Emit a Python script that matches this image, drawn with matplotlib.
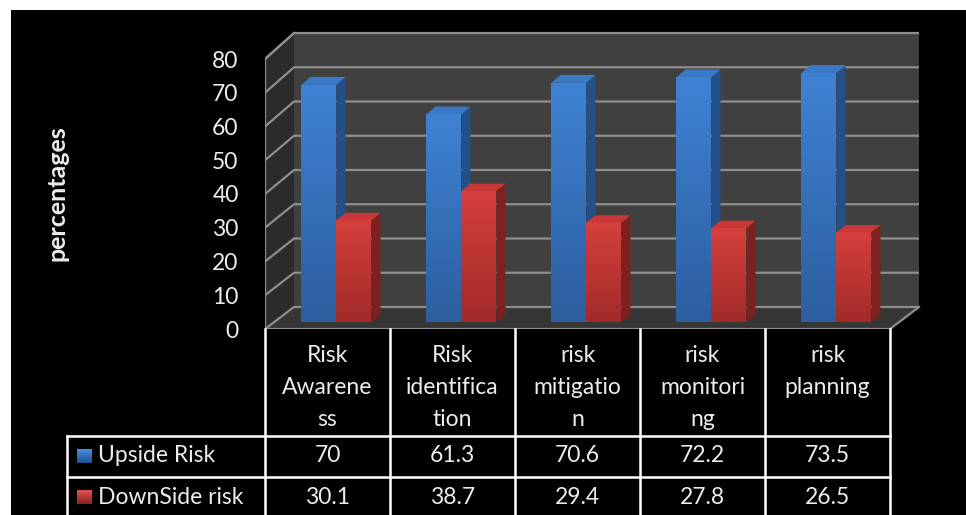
import matplotlib
matplotlib.use("Agg")
import matplotlib.pyplot as plt
from matplotlib.patches import Polygon, Rectangle
import numpy as np

plt.rcParams["font.family"] = ["Lato", "DejaVu Sans"]

# data
categories = ["Risk\nAwarene\nss", "Risk\nidentifica\ntion", "risk\nmitigatio\nn",
              "risk\nmonitori\nng", "risk\nplanning"]
series_names = ["Upside Risk", "DownSide risk"]
upside = [70, 61.3, 70.6, 72.2, 73.5]
downside = [30.1, 38.7, 29.4, 27.8, 26.5]
y_ticks = [0, 10, 20, 30, 40, 50, 60, 70, 80]

W, H = 966, 515
TXT = "#ececec"
FS = 16.5

# front plane in pixels: x 265..890 (125 px per category), value 0 at y=329, 3.375 px per unit
PX_X, PX_Y = 125.0, 3.375
LEFT, BOTTOM, RIGHT, TOP = 265, 329, 935, 20
DX = 29 / PX_X          # depth offset along x (data units)
DY = 22 / PX_Y          # depth offset along y (value units)
S = 4 / PX_Y / 80       # slight perspective growth toward the back
F0, F1 = 0.31, 0.62     # bar front / back depth
BAR_W = 0.28


def proj(x, v, d):
    return (x + d * DX, v * (1 + d * S) + d * DY)


def grad_face(ax, pts, c_top, c_bot, z):
    poly = Polygon(pts, closed=True, facecolor="none", edgecolor="none", zorder=z)
    ax.add_patch(poly)
    xs = [p[0] for p in pts]
    ys = [p[1] for p in pts]
    c1 = np.array(matplotlib.colors.to_rgb(c_top))
    c2 = np.array(matplotlib.colors.to_rgb(c_bot))
    t = np.linspace(0, 1, 64)[:, None]
    img = (c1 * (1 - t) + c2 * t)[:, None, :]
    im = ax.imshow(img, extent=(min(xs), max(xs), min(ys), max(ys)), origin="upper",
                   aspect="auto", interpolation="bilinear", zorder=z)
    im.set_clip_path(poly)


def bar3d(ax, x0, v, front, side, top, z):
    x1 = x0 + BAR_W
    f = [proj(x0, 0, F0), proj(x1, 0, F0), proj(x1, v, F0), proj(x0, v, F0)]
    sd = [proj(x1, 0, F0), proj(x1, 0, F1), proj(x1, v, F1), proj(x1, v, F0)]
    tp = [proj(x0, v, F0), proj(x1, v, F0), proj(x1, v, F1), proj(x0, v, F1)]
    ax.add_patch(Polygon(sd, closed=True, facecolor=side, edgecolor="none", zorder=z))
    ax.add_patch(Polygon(tp, closed=True, facecolor=top, edgecolor="none", zorder=z))
    grad_face(ax, f, front[0], front[1], z + 0.5)


fig = plt.figure(figsize=(W / 100, H / 100), dpi=100, facecolor="white")
fig.patches.append(Rectangle((11 / W, 0), 1, 1 - 10 / H, transform=fig.transFigure,
                             facecolor="black", edgecolor="none", zorder=-10))

ax = fig.add_axes([LEFT / W, (H - BOTTOM) / H, (RIGHT - LEFT) / W, (BOTTOM - TOP) / H])
ax.patch.set_visible(False)
n = len(categories)
vmax = y_ticks[-1]

# walls and floor
back = [proj(0, 0, 1), proj(n, 0, 1), proj(n, vmax, 1), proj(0, vmax, 1)]
ax.add_patch(Polygon(back, closed=True, facecolor="#404040", edgecolor="none", zorder=1))
side_wall = [proj(0, 0, 0), proj(0, 0, 1), proj(0, vmax, 1), proj(0, vmax, 0)]
ax.add_patch(Polygon(side_wall, closed=True, facecolor="#2b2b2b", edgecolor="none", zorder=1))
floor = [proj(0, 0, 0), proj(n, 0, 0), proj(n, 0, 1), proj(0, 0, 1)]
ax.add_patch(Polygon(floor, closed=True, facecolor="#363636", edgecolor="none", zorder=1))

for v in y_ticks:
    a, b, c = proj(0, v, 0), proj(0, v, 1), proj(n, v, 1)
    ax.plot([a[0], b[0], c[0]], [a[1], b[1], c[1]], color="#8e8e8e", lw=1.6, zorder=2,
            solid_capstyle="butt")
# wall edges
for pts in ([proj(0, 0, 0), proj(0, vmax, 0)], [proj(0, vmax, 0), proj(0, vmax, 1)],
            [proj(0, 0, 0), proj(n, 0, 0), proj(n, 0, 1)]):
    ax.plot([p[0] for p in pts], [p[1] for p in pts], color="#8e8e8e", lw=1.6, zorder=2)

# bars, left to right
for i in range(n):
    bar3d(ax, i + 0.5 - BAR_W, upside[i], ("#3f82d4", "#2d5e9f"), "#24508a", "#3b78c6", 3 + 2 * i)
    bar3d(ax, i + 0.5, downside[i], ("#d5403d", "#a22a29"), "#7c2020", "#c93836", 4 + 2 * i)

ax.set_xlim(0, (RIGHT - LEFT) / PX_X)
ax.set_ylim(0, (BOTTOM - TOP) / PX_Y)
ax.set_xticks([])
ax.set_yticks(y_ticks)
ax.set_yticklabels([str(t) for t in y_ticks], color=TXT, fontsize=FS)
ax.tick_params(axis="y", length=0, pad=19)
for s in ax.spines.values():
    s.set_visible(False)

fig.text(57 / W, 1 - 193 / H, "percentages", rotation=90, ha="center", va="center",
         color=TXT, fontsize=18, fontweight="bold")

# data table below the plot
tab = fig.add_axes([0, 0, 1, 1])
tab.set_xlim(0, W)
tab.set_ylim(H, 0)
tab.axis("off")
col_x = [LEFT + PX_X * k for k in range(n + 1)]
row_y = [436, 477]
for x in col_x:
    tab.plot([x, x], [BOTTOM, H], color="white", lw=1.8)
for y in row_y:
    tab.plot([67, col_x[-1]], [y, y], color="white", lw=1.8)
tab.plot([67, 67], [row_y[0], H], color="white", lw=1.8)

for i, lab in enumerate(categories):
    cx = (col_x[i] + col_x[i + 1]) / 2
    for k, line in enumerate(lab.split("\n")):
        tab.text(cx, 355 + 32.5 * k, line, ha="center", va="center", color=TXT, fontsize=FS)

rows = [upside, downside]
row_c = [456, 497]
keys = [("#4a8ee0", "#22508e"), ("#e05050", "#8e2222")]
for r, (name, vals) in enumerate(zip(series_names, rows)):
    y = row_c[r]
    tab.text(98, y, name, ha="left", va="center", color=TXT, fontsize=FS)
    c1 = np.array(matplotlib.colors.to_rgb(keys[r][0]))
    c2 = np.array(matplotlib.colors.to_rgb(keys[r][1]))
    t = np.linspace(0, 1, 16)[:, None]
    tab.imshow((c1 * (1 - t) + c2 * t)[:, None, :], extent=(77, 92, y + 7, y - 7),
               aspect="auto", interpolation="bilinear")
    for i, v in enumerate(vals):
        cx = (col_x[i] + col_x[i + 1]) / 2
        tab.text(cx, y, f"{v:g}", ha="center", va="center", color=TXT, fontsize=FS)
tab.set_xlim(0, W)
tab.set_ylim(H, 0)

fig.savefig("out.png", dpi=100, facecolor=fig.get_facecolor())
